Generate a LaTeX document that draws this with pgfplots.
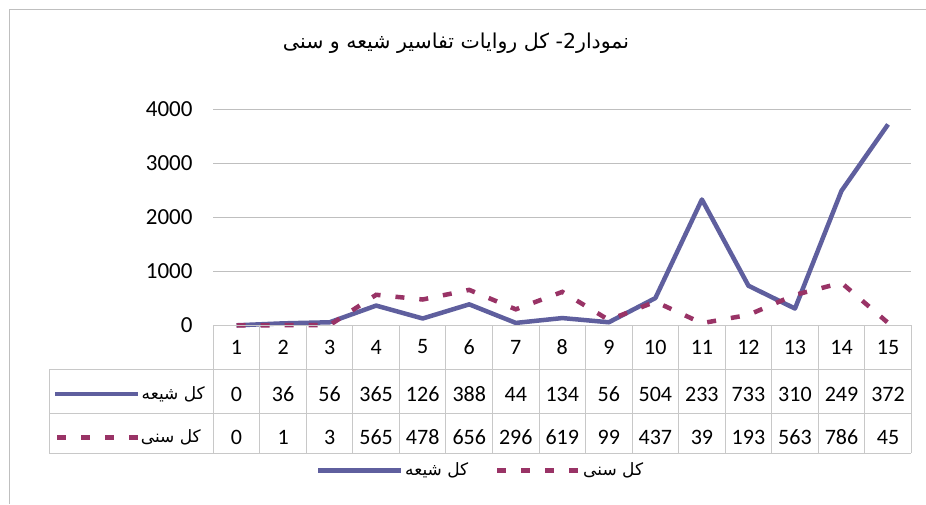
\documentclass[border=0pt]{standalone}
\usepackage{pgfplots}
\pgfplotsset{compat=1.18}
\usepackage{fontspec}
\setmainfont{Carlito}
\newfontfamily\arabicfont[Script=Arabic]{DejaVu Sans}
\TeXXeTstate=1
\definecolor{shia}{HTML}{5F5F9E}
\definecolor{sunni}{HTML}{993366}
\definecolor{gridc}{HTML}{BFBFBF}
\definecolor{tablec}{HTML}{C8C8C8}
\begin{document}
\begin{tikzpicture}[x=1pt,y=1pt]
\useasboundingbox (0,0) rectangle (926,504);
\fill[white] (0,0) rectangle (926,504);
\draw[gridc, line width=1.2pt] (9.5,0) -- (9.5,494.5) -- (926,494.5);
\begin{axis}[at={(213.3pt,178.7pt)}, anchor=south west, scale only axis,
  width=698pt, height=216pt, xmin=0.5, xmax=15.5, ymin=0, ymax=4000,
  axis line style={draw=none}, xtick=\empty,
  ytick={0,1000,2000,3000,4000}, yticklabels={0,1000,2000,3000,4000},
  major tick length=0pt, ymajorgrids, grid style={gridc, line width=0.9pt},
  yticklabel style={font=\fontsize{23}{25}\selectfont, anchor=east, inner sep=0pt, xshift=-20.6pt},
  clip=false]
\addplot[shia, line width=4.5pt, line join=round] coordinates {
(1,0) (2,36) (3,56) (4,365) (5,126) (6,388) (7,44) (8,134) (9,56) (10,504)
(11,2330) (12,733) (13,310) (14,2490) (15,3720)};
\addplot[sunni, line width=4.5pt, dash pattern=on 9pt off 15pt] coordinates {
(1,0) (2,1) (3,3) (4,565) (5,478) (6,656) (7,296) (8,619) (9,99) (10,437)
(11,39) (12,193) (13,563) (14,786) (15,45)};
\end{axis}
% data table
\begin{scope}[tablec, line width=1pt]
\draw (213.3,178.7) -- (911.3,178.7);
\draw (49.3,134.7) -- (911.3,134.7);
\draw (49.3,90.7) -- (911.3,90.7);
\draw (49.3,50.7) -- (911.3,50.7);
\draw (49.3,134.7) -- (49.3,50.7);
\foreach \i in {0,...,15} \draw (213.3+46.533*\i,178.7) -- (213.3+46.533*\i,50.7);
\end{scope}
\foreach \v [count=\i] in {1,...,15}
  \node[font=\fontsize{22}{24}\selectfont, inner sep=0pt] at (213.3+46.533*\i-23.27,157) {\v};
\foreach \v [count=\i] in {0,36,56,365,126,388,44,134,56,504,233,733,310,249,372}
  \node[font=\fontsize{22}{24}\selectfont, inner sep=0pt] at (213.3+46.533*\i-23.27,110) {\v};
\foreach \v [count=\i] in {0,1,3,565,478,656,296,619,99,437,39,193,563,786,45}
  \node[font=\fontsize{22}{24}\selectfont, inner sep=0pt] at (213.3+46.533*\i-23.27,66.5) {\v};
% row labels
\draw[shia, line width=4.5pt] (55,110) -- (138,110);
\node[anchor=east, inner sep=0pt, font=\arabicfont\fontsize{17}{20}\selectfont] at (205,110) {\beginR کل شیعه\endR};
\draw[sunni, line width=4.5pt, dash pattern=on 9pt off 15pt] (57,66.5) -- (138,66.5);
\node[anchor=east, inner sep=0pt, font=\arabicfont\fontsize{17}{20}\selectfont] at (201,66.5) {\beginR کل سنی\endR};
% legend
\draw[shia, line width=4.5pt] (318,33.3) -- (400.7,33.3);
\node[anchor=west, inner sep=0pt, font=\arabicfont\fontsize{17}{20}\selectfont] at (405,33.3) {\beginR کل شیعه\endR};
\draw[sunni, line width=4.5pt, dash pattern=on 9pt off 15pt] (497,33.3) -- (578,33.3);
\node[anchor=west, inner sep=0pt, font=\arabicfont\fontsize{17}{20}\selectfont] at (583,33.3) {\beginR کل سنی\endR};
% title
\node[inner sep=0pt, font=\arabicfont\fontsize{20.5}{24}\selectfont] at (456,461)
  {\beginR نمودار2- کل روایات تفاسیر شیعه و سنی\endR};
\end{tikzpicture}
\end{document}
